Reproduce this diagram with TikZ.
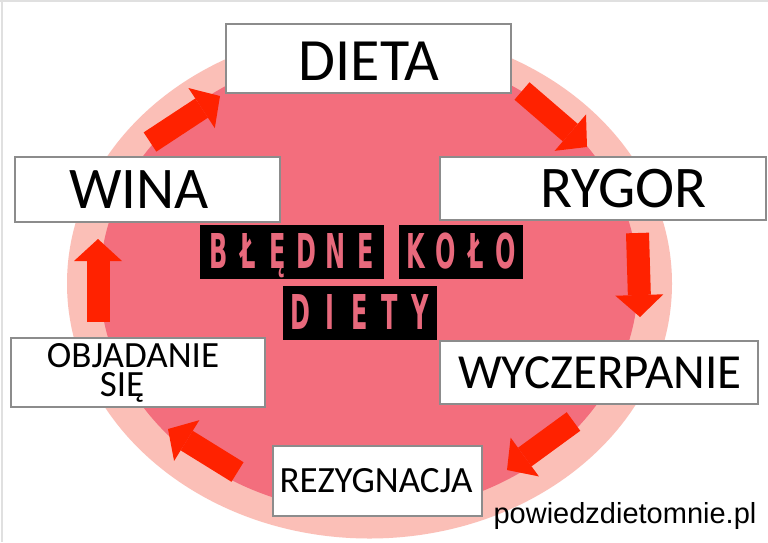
\documentclass[tikz,border=0pt]{standalone}
\usepackage{fontspec}
\usetikzlibrary{arrows.meta}
\newfontfamily\boxfont{Carlito}
\newfontfamily\titlefont[FakeStretch=0.5]{DejaVu Sans}
\newfontfamily\markfont{Liberation Sans}
\definecolor{outerpink}{HTML}{FBBFB7}
\definecolor{innerpink}{HTML}{F36E7D}
\definecolor{arrred}{HTML}{FF2200}
\definecolor{titlepink}{HTML}{E8697C}
\definecolor{boxgray}{HTML}{8C8C8C}
\newcommand\lt[1]{\makebox[29.3pt]{#1}}
\newcommand\ltw[1]{\makebox[30pt]{#1}}
\begin{document}
\begin{tikzpicture}[x=1pt,y=-1pt,
  box/.style={draw=boxgray,line width=1.1pt,fill=white,inner sep=0pt},
  lbl/.style={inner sep=0pt,anchor=base,text=black},
  blk/.style={fill=black,inner sep=0pt,text=titlepink,text height=32pt,text depth=0pt,
    minimum height=54pt,font=\titlefont\bfseries\fontsize{48}{48}\selectfont},
  flow/.style={arrred,line width=23pt,-{Triangle[length=22pt,width=48pt,line width=0pt]}}]
\useasboundingbox (0,0) rectangle (768,542);
\fill[white] (0,0) rectangle (768,542);
\draw[black!12,line width=2pt] (0,1) -- (768,1);
\draw[black!12,line width=2pt] (2,0) -- (2,542);
% circle
\fill[outerpink] (369.5,283.5) ellipse [x radius=302.5pt, y radius=255pt];
\fill[innerpink] (369,281.5) ellipse [x radius=269pt, y radius=231pt];
% arrows
\coordinate (a1s) at (150,142); \coordinate (a1e) at (220,96);
\coordinate (a2s) at (522,91);  \coordinate (a2e) at (587,147);
\coordinate (a3s) at (637.5,233); \coordinate (a3e) at (640,317);
\coordinate (a4s) at (573.5,421.5); \coordinate (a4e) at (507,470);
\coordinate (a5s) at (237.5,472); \coordinate (a5e) at (168,429);
\coordinate (a6s) at (98,322); \coordinate (a6e) at (98,239);
\draw[flow] (a1s) -- (a1e);
\draw[flow] (a2s) -- (a2e);
\draw[flow] (a3s) -- (a3e);
\draw[flow] (a4s) -- (a4e);
\draw[flow] (a5s) -- (a5e);
\draw[flow] (a6s) -- (a6e);
% boxes
\node[box,minimum width=285pt,minimum height=69pt] (dieta) at (368.5,58.5) {};
\node[box,minimum width=265pt,minimum height=65pt] (wina) at (147.5,189.5) {};
\node[box,minimum width=326pt,minimum height=63pt] (rygor) at (603,188.5) {};
\node[box,minimum width=254pt,minimum height=69pt] (objad) at (138,372.5) {};
\node[box,minimum width=318pt,minimum height=63pt] (wycz) at (599,372.5) {};
\node[box,minimum width=209pt,minimum height=70pt] (rez) at (377.5,481) {};
% box texts
\node[lbl,font=\boxfont\fontsize{60}{60}\selectfont] (tdieta) at (369,80) {DIETA};
\node[lbl,font=\boxfont\fontsize{59}{59}\selectfont] (twina) at (139,208) {WINA};
\node[lbl,font=\boxfont\fontsize{59}{59}\selectfont] (trygor) at (623.5,207) {RYGOR};
\node[inner sep=0pt,anchor=north,align=center,font=\boxfont\fontsize{37}{29}\selectfont] (tobj) at (133,343.5) {OBJADANIE\\SIĘ\hspace*{22pt}};
\node[lbl,font=\boxfont\fontsize{49}{49}\selectfont] (twycz) at (600,388) {WYCZERPANIE};
\node[lbl,font=\boxfont\fontsize{37}{37}\selectfont] (trez) at (376,492) {REZYGNACJA};
% title
\node[blk,minimum width=184pt] (w1) at (292,252) {\lt{B}\lt{Ł}\lt{Ę}\lt{D}\lt{N}\lt{E}};
\node[blk,minimum width=124pt] (w2) at (461,252) {\ltw{K}\ltw{O}\ltw{Ł}\ltw{O}};
\node[blk,minimum width=154pt] (w3) at (360,313) {\ltw{D}\ltw{I}\ltw{E}\ltw{T}\ltw{Y}};
% watermark
\node[lbl,font=\markfont\fontsize{29}{29}\selectfont] (mark) at (625,523) {powiedzdietomnie.pl};
\end{tikzpicture}
\end{document}
